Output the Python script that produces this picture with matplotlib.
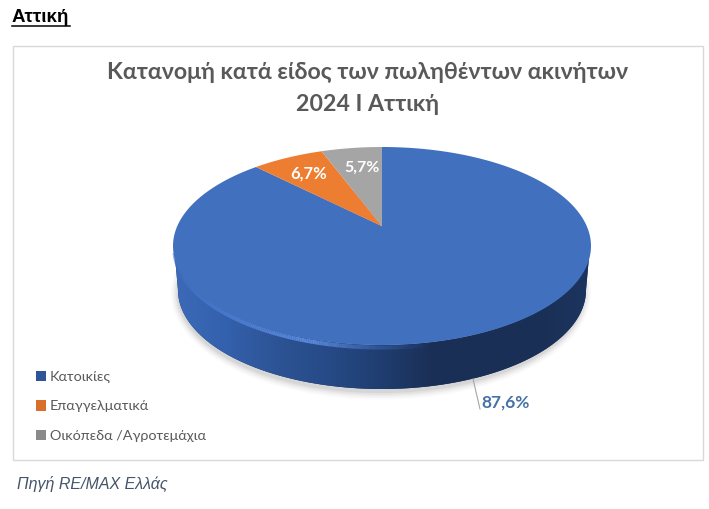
import numpy as np
import matplotlib
matplotlib.use('Agg')
import matplotlib.pyplot as plt
from matplotlib.collections import LineCollection
from matplotlib.colors import LinearSegmentedColormap, to_rgba
from matplotlib.patches import Ellipse, Patch, Rectangle

# values
categories = ['Κατοικίες', 'Επαγγελματικά', 'Οικόπεδα /Αγροτεμάχια']
shares = [87.6, 6.7, 5.7]
share_labels = ['87,6%', '6,7%', '5,7%']
colors = ['#4170bf', '#ed7d31', '#a5a5a5']

CX, CY = 382, 246     # ellipse centre of the top face
RX, RY = 209, 99
DEPTH = 44
TILT = 0.2            # moves the pie apex up, like the perspective in the original


def project(frac):
    # fraction of the circle, clockwise from 12 o'clock -> pixel position
    phi = 2 * np.pi * np.asarray(frac)
    x, y = np.sin(phi), np.cos(phi)
    den = 1 + TILT * y
    return CX + RX * x * np.sqrt(1 - TILT ** 2) / den, CY - RY * (y + TILT) / den


fig = plt.figure(figsize=(7.09, 5.09), dpi=100)
ax = fig.add_axes([0, 0, 1, 1])
ax.axis('off')

ax.add_patch(Rectangle((12.5, 45.5), 690, 414, fc='white', ec='#d9d9d9', lw=1))

# soft shadow under the pie
for grow, alpha in zip([14, 11, 8, 5, 2], [0.02, 0.025, 0.03, 0.04, 0.05]):
    ax.add_patch(Ellipse((CX - 1, CY + DEPTH + 3), 2 * (RX - 6 + grow * 0.5), 2 * (RY + grow * 0.55),
                         fc='black', ec='none', alpha=alpha))

# side wall, dark gradient clipped to the band under the top face
t = np.linspace(0, np.pi, 200)
wall_x = np.r_[CX + (RX - 1) * np.cos(t), CX - (RX - 5) * np.cos(t)]
wall_y = np.r_[CY + RY * np.sin(t), CY + DEPTH + RY * np.sin(t[::-1])]
wall_cmap = LinearSegmentedColormap.from_list(
    'wall', ['#3d6ab8', '#3461ad', '#2c5394', '#264a86', '#1f3d70', '#1a2f55', '#1a2f55', '#1a2f55', '#1c3560'])
wall_poly, = ax.fill(wall_x, wall_y, color='#1a2f55', lw=0)
img = ax.imshow(np.linspace(0, 1, 256).reshape(1, -1), cmap=wall_cmap, aspect='auto',
                extent=(CX - RX, CX + RX, CY + DEPTH + RY, CY - 10), zorder=2)
img.set_clip_path(wall_poly)
ax.set_xlim(0, 709)
ax.set_ylim(509, 0)

# lighter bevel along the front rim, brightest on the lower left
rim_t = np.linspace(0.42 * np.pi, 0.985 * np.pi, 160)
rim_x = CX + (RX - 1.5) * np.cos(rim_t)
rim_y = CY + RY * np.sin(rim_t) + 2.5
rim_pts = np.column_stack([rim_x, rim_y]).reshape(-1, 1, 2)
rim_segments = np.concatenate([rim_pts[:-1], rim_pts[1:]], axis=1)
rim_cmap = LinearSegmentedColormap.from_list(
    'rim', [to_rgba('#3a66b2', 0.0), to_rgba('#5c8ce0', 0.95), to_rgba('#4a7bd0', 0.85), to_rgba('#3a6ab8', 0.6)])
rim = LineCollection(rim_segments, colors=rim_cmap(np.linspace(0, 1, len(rim_segments))), linewidths=3, zorder=3)
ax.add_collection(rim)

# top face, slices run clockwise from 12 o'clock
apex_x, apex_y = CX, CY - RY * TILT
start = 0.0
for share, color in zip(shares, colors):
    end = start + share / 100
    arc_x, arc_y = project(np.linspace(start, end, 300))
    ax.fill(np.r_[apex_x, arc_x], np.r_[apex_y, arc_y], color=color, lw=0, zorder=4)
    start = end

# data labels
ax.text(309, 174, share_labels[1], color='white', fontsize=12, fontweight='bold',
        family='Lato', ha='center', va='center', zorder=5)
ax.text(362, 168, share_labels[2], color='white', fontsize=11.5, fontweight='bold',
        family='Lato', ha='center', va='center', zorder=5)
ax.plot([473, 480], [379, 409], color='#a6a6a6', lw=0.8, zorder=5)
ax.text(481, 403, share_labels[0], color='#4472a8', fontsize=12.5, fontweight='bold',
        family='Lato', ha='left', va='center', zorder=5)

# titles
ax.text(368, 72, 'Κατανομή κατά είδος των πωληθέντων ακινήτων', color='#595959', fontsize=16.7,
        fontweight='bold', family='Lato', ha='center', va='center')
ax.text(368, 104, '2024 Ι Αττική', color='#595959', fontsize=16.7,
        fontweight='bold', family='Lato', ha='center', va='center')

ax.text(12, 17, 'Αττική', color='black', fontsize=13.5, fontweight='bold',
        family='Liberation Sans', ha='left', va='center')
ax.plot([12, 70], [26, 26], color='black', lw=1.1)
ax.text(17, 484.5, 'Πηγή RE/MAX Ελλάς', color='#44546a', fontsize=11.5, style='italic',
        family='Liberation Sans', ha='left', va='center')

# legend
handles = [Patch(fc=c, ec='none') for c in ['#2f5597', '#d8702b', '#8a8a8a']]
leg = ax.legend(handles, categories, loc='lower left', bbox_to_anchor=(36 / 709, (509 - 442) / 509),
                frameon=False, handlelength=0.72, handleheight=0.72, handletextpad=0.25,
                labelspacing=1.2, borderpad=0, borderaxespad=0,
                prop={'family': 'Lato', 'size': 10.4}, labelcolor='#595959')
leg.set_zorder(6)

fig.savefig('out.png', dpi=100)
